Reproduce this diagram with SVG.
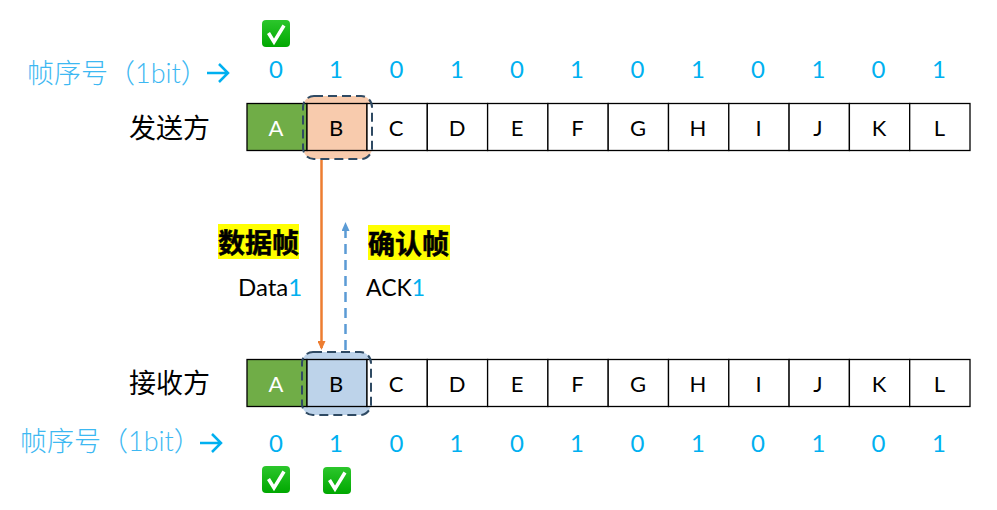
<svg xmlns="http://www.w3.org/2000/svg" width="997" height="510" viewBox="0 0 997 510">
<style>
text{font-family:"Lato","Noto Sans CJK SC",sans-serif}
.cell{fill:#fff;stroke:#000;stroke-width:1.3}
.l{font-size:22px;text-anchor:middle;fill:#000}
.w{fill:#fff}
.n{font-size:24px;text-anchor:middle;fill:#00b0f0}
.seq{font-size:27px;fill:#3db8f2;font-weight:300}
.side{font-size:27px;fill:#000;font-family:"Noto Sans CJK SC",sans-serif}
.hl{font-size:27px;font-weight:700;fill:#000;font-family:"Noto Sans CJK SC",sans-serif}
.lab{font-size:24px;fill:#000}
.lab2{font-size:23px;fill:#000}
.blue{fill:#00b0f0}
.win{stroke:#2f4a63;stroke-width:2;stroke-dasharray:9 5}
.arr{fill:none;stroke:#00b0f0;stroke-width:2.5}
</style>
<defs>
<linearGradient id="g" x1="0" y1="0" x2="0" y2="1"><stop offset="0" stop-color="#2cc62c"/><stop offset="1" stop-color="#00a800"/></linearGradient>
<g id="check"><rect x="-14" y="-14" width="28" height="27" rx="4" fill="url(#g)"/><path d="M-7.5 -1 L-2 8 L8 -8.500" fill="none" stroke="#fff" stroke-width="3.500"/></g>
<marker id="ao" viewBox="0 0 9 8" refX="7" refY="4" markerUnits="userSpaceOnUse" markerWidth="9" markerHeight="8" orient="auto"><path d="M0 0L9 4L0 8Z" fill="#ed7d31"/></marker>
<marker id="ab" viewBox="0 0 9 8" refX="7" refY="4" markerUnits="userSpaceOnUse" markerWidth="9" markerHeight="8" orient="auto"><path d="M0 0L9 4L0 8Z" fill="#5b9bd5"/></marker>
</defs>

<g id="sender-window"><rect x="303" y="96" width="69" height="63" rx="11" fill="#f8cbad"/></g>
<g id="receiver-window"><rect x="302" y="352" width="69" height="63" rx="11" fill="#bdd3ea"/></g>

<g id="sender">
<rect class="cell" x="247" y="103.500" width="60" height="47" style="fill:#70ad47"/><text class="l w" x="276" y="136">A</text>
<rect class="cell" x="307" y="103.500" width="60" height="47" style="fill:#f8cbad"/><text class="l" x="336" y="136">B</text>
<rect class="cell" x="367" y="103.500" width="60.300" height="47"/><text class="l" x="396" y="136">C</text>
<rect class="cell" x="427.300" y="103.500" width="60.300" height="47"/><text class="l" x="457" y="136">D</text>
<rect class="cell" x="487.600" y="103.500" width="60.300" height="47"/><text class="l" x="517" y="136">E</text>
<rect class="cell" x="547.900" y="103.500" width="60.300" height="47"/><text class="l" x="577.500" y="136">F</text>
<rect class="cell" x="608.200" y="103.500" width="60.300" height="47"/><text class="l" x="638" y="136">G</text>
<rect class="cell" x="668.500" y="103.500" width="60.300" height="47"/><text class="l" x="698" y="136">H</text>
<rect class="cell" x="728.800" y="103.500" width="60.300" height="47"/><text class="l" x="758.500" y="136">I</text>
<rect class="cell" x="789.100" y="103.500" width="60.300" height="47"/><text class="l" x="818" y="136">J</text>
<rect class="cell" x="849.400" y="103.500" width="60.300" height="47"/><text class="l" x="879" y="136">K</text>
<rect class="cell" x="909.700" y="103.500" width="60.300" height="47"/><text class="l" x="939.500" y="136">L</text>
</g>
<g id="receiver">
<rect class="cell" x="247" y="359.500" width="60" height="47" style="fill:#70ad47"/><text class="l w" x="276" y="392">A</text>
<rect class="cell" x="307" y="359.500" width="60" height="47" style="fill:#bdd3ea"/><text class="l" x="336" y="392">B</text>
<rect class="cell" x="367" y="359.500" width="60.300" height="47"/><text class="l" x="396" y="392">C</text>
<rect class="cell" x="427.300" y="359.500" width="60.300" height="47"/><text class="l" x="457" y="392">D</text>
<rect class="cell" x="487.600" y="359.500" width="60.300" height="47"/><text class="l" x="517" y="392">E</text>
<rect class="cell" x="547.900" y="359.500" width="60.300" height="47"/><text class="l" x="577.500" y="392">F</text>
<rect class="cell" x="608.200" y="359.500" width="60.300" height="47"/><text class="l" x="638" y="392">G</text>
<rect class="cell" x="668.500" y="359.500" width="60.300" height="47"/><text class="l" x="698" y="392">H</text>
<rect class="cell" x="728.800" y="359.500" width="60.300" height="47"/><text class="l" x="758.500" y="392">I</text>
<rect class="cell" x="789.100" y="359.500" width="60.300" height="47"/><text class="l" x="818" y="392">J</text>
<rect class="cell" x="849.400" y="359.500" width="60.300" height="47"/><text class="l" x="879" y="392">K</text>
<rect class="cell" x="909.700" y="359.500" width="60.300" height="47"/><text class="l" x="939.500" y="392">L</text>
</g>

<g id="sender-window-outline"><rect class="win" x="303" y="96" width="69" height="63" rx="11" fill="none"/></g>
<g id="receiver-window-outline"><rect class="win" x="302" y="352" width="69" height="63" rx="11" fill="none"/></g>

<g id="connectors">
<line x1="321.500" y1="160" x2="321.500" y2="348" stroke="#ed7d31" stroke-width="2.500" marker-end="url(#ao)"/>
<line x1="345.500" y1="350" x2="345.500" y2="224" stroke="#5b9bd5" stroke-width="2.500" stroke-dasharray="10 6" marker-end="url(#ab)"/>
</g>

<g id="sender-label"><text class="side" x="129" y="138">发送方</text></g>
<g id="receiver-label"><text class="side" x="129" y="393">接收方</text></g>

<g id="sender-seq">
<text class="seq" x="27" y="83">帧序号（1bit）</text>
<path class="arr" d="M207 73H228M219 64L228 73L219 82"/>
<text class="n" x="276" y="78">0</text><text class="n" x="336" y="78">1</text><text class="n" x="396.500" y="78">0</text><text class="n" x="457" y="78">1</text><text class="n" x="517" y="78">0</text><text class="n" x="577" y="78">1</text><text class="n" x="637.500" y="78">0</text><text class="n" x="698" y="78">1</text><text class="n" x="758" y="78">0</text><text class="n" x="818.500" y="78">1</text><text class="n" x="878.500" y="78">0</text><text class="n" x="939" y="78">1</text>
</g>
<g id="receiver-seq">
<text class="seq" x="20" y="451">帧序号（1bit）</text>
<path class="arr" d="M200 443H221M212 434L221 443L212 452"/>
<text class="n" x="276" y="452">0</text><text class="n" x="336" y="452">1</text><text class="n" x="396.500" y="452">0</text><text class="n" x="456.500" y="452">1</text><text class="n" x="517" y="452">0</text><text class="n" x="577" y="452">1</text><text class="n" x="637.500" y="452">0</text><text class="n" x="698" y="452">1</text><text class="n" x="758" y="452">0</text><text class="n" x="818.500" y="452">1</text><text class="n" x="878.500" y="452">0</text><text class="n" x="939" y="452">1</text>
</g>

<g id="checks">
<use href="#check" x="276" y="34"/>
<use href="#check" x="276" y="480"/>
<use href="#check" x="337" y="481"/>
</g>

<g id="data-label">
<rect x="218" y="224" width="81" height="35" fill="#ffff00"/>
<text class="hl" x="218" y="253" stroke="#000" stroke-width="0.500">数据帧</text>
<text class="lab" x="238" y="296">Data<tspan class="blue">1</tspan></text>
</g>
<g id="ack-label">
<rect x="368" y="225" width="82" height="35" fill="#ffff00"/>
<text class="hl" x="368" y="254" stroke="#000" stroke-width="0.500">确认帧</text>
<text class="lab2" x="366" y="296">ACK<tspan class="blue">1</tspan></text>
</g>
</svg>
